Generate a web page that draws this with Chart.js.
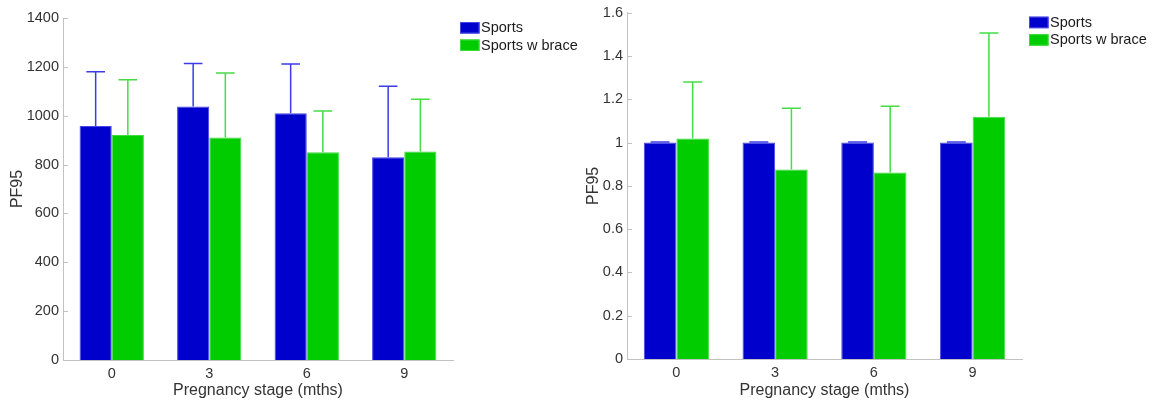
<!DOCTYPE html>
<html>
<head>
<meta charset="utf-8">
<script src="https://cdn.jsdelivr.net/npm/chart.js@4/dist/chart.umd.min.js"></script>
<style>
  html, body { margin: 0; padding: 0; background: #fff; }
  #wrap { position: relative; width: 1156px; height: 402px; }
  .box { position: absolute; top: 0; height: 402px; }
</style>
</head>
<body>
<div id="wrap">
  <div class="box" style="left:0;width:580px"><canvas id="grafico1"></canvas></div>
  <div class="box" style="left:580px;width:576px"><canvas id="grafico2"></canvas></div>
</div>
<script>
// categorias e valores
const stages = ["0", "3", "6", "9"];
const seriesNames = ["Sports", "Sports w brace"];

const pfSports = [958, 1038, 1010, 830];
const pfSportsErr = [222, 176, 202, 291];
const pfBrace = [921, 911, 850, 854];
const pfBraceErr = [226, 264, 169, 213];

const normSports = [1, 1, 1, 1];
const normSportsErr = [0.003, 0.003, 0.003, 0.003];
const normBrace = [1.019, 0.876, 0.862, 1.119];
const normBraceErr = [0.261, 0.283, 0.306, 0.387];

const leftTicks = { min: 0, max: 1400, step: 200 };
const rightTicks = { min: 0, max: 1.6, step: 0.2 };

const azul = "#0000cc";
const verde = "#00cc00";
const fonte = "Liberation Sans, Arial, sans-serif";
const cinza = "#c2c2c2";

// barras de erro (so para cima) e ticks internos no eixo y
const extras = {
    id: "extras",
    afterDatasetsDraw(chart) {
        const ctx = chart.ctx;
        const y = chart.scales.y;
        chart.data.datasets.forEach((ds, i) => {
            const meta = chart.getDatasetMeta(i);
            meta.data.forEach((bar, j) => {
                const topo = y.getPixelForValue(ds.data[j] + ds.errors[j]);
                const cap = bar.width * 0.58;
                ctx.save();
                ctx.strokeStyle = ds.errColor;
                ctx.lineWidth = 1.5;
                ctx.beginPath();
                ctx.moveTo(bar.x, bar.y);
                ctx.lineTo(bar.x, topo);
                ctx.moveTo(bar.x - cap / 2, topo);
                ctx.lineTo(bar.x + cap / 2, topo);
                ctx.stroke();
                ctx.restore();
            });
        });
    },
    afterDraw(chart) {
        const ctx = chart.ctx;
        const area = chart.chartArea;
        const y = chart.scales.y;
        ctx.save();
        ctx.strokeStyle = cinza;
        ctx.lineWidth = 1;
        y.ticks.forEach(t => {
            const py = Math.round(y.getPixelForValue(t.value)) + 0.5;
            ctx.beginPath();
            ctx.moveTo(area.left, py);
            ctx.lineTo(area.left + 5, py);
            ctx.stroke();
        });
        ctx.restore();

        // legenda ao lado do grafico
        ctx.save();
        ctx.font = "14.5px " + fonte;
        ctx.textBaseline = "middle";
        chart.data.datasets.forEach((ds, i) => {
            const lx = area.right + 7;
            const ly = area.top + 4 + i * 17.5;
            ctx.fillStyle = ds.backgroundColor;
            ctx.fillRect(lx, ly, 19.5, 11.5);
            ctx.strokeStyle = ds.borderColor;
            ctx.strokeRect(lx + 0.5, ly + 0.5, 18.5, 10.5);
            ctx.fillStyle = "#1a1a1a";
            ctx.fillText(ds.label, lx + 21, ly + 6);
        });
        ctx.restore();
    }
};

function fmt(v) {
    return String(Math.round(v * 10) / 10);
}

function criarGrafico(id, valores, limites, yWidth, pad, xHeight, yTitlePad) {
    return new Chart(document.getElementById(id), {
        type: "bar",
        data: {
            labels: stages,
            datasets: [{
                label: seriesNames[0],
                data: valores[0],
                errors: valores[1],
                backgroundColor: azul,
                borderColor: "#4545e8",
                borderWidth: 1,
                errColor: "#3b3bea",
                categoryPercentage: 0.66,
                barPercentage: 1
            }, {
                label: seriesNames[1],
                data: valores[2],
                errors: valores[3],
                backgroundColor: verde,
                borderColor: "#3fdc3f",
                borderWidth: 1,
                errColor: "#44dd44",
                categoryPercentage: 0.66,
                barPercentage: 1
            }]
        },
        options: {
            responsive: true,
            maintainAspectRatio: false,
            animation: false,
            layout: { padding: pad },
            plugins: { legend: { display: false }, tooltip: { enabled: false } },
            scales: {
                x: {
                    offset: true,
                    grid: { display: false, drawTicks: false },
                    border: { display: true, color: cinza, width: 1 },
                    ticks: { color: "#333", font: { family: fonte, size: 14.5 }, padding: 5 },
                    title: {
                        display: true,
                        text: "Pregnancy stage (mths)",
                        color: "#333",
                        font: { family: fonte, size: 16 },
                        padding: { top: 0, bottom: 2 }
                    },
                    afterFit(scale) { scale.height = xHeight; }
                },
                y: {
                    min: limites.min,
                    max: limites.max,
                    grid: { display: false, drawTicks: false },
                    border: { display: true, color: cinza, width: 1 },
                    ticks: {
                        stepSize: limites.step,
                        color: "#333",
                        font: { family: fonte, size: 14.5 },
                        padding: 4,
                        callback: v => fmt(v)
                    },
                    title: {
                        display: true,
                        text: "PF95",
                        color: "#333",
                        font: { family: fonte, size: 16 },
                        padding: { top: yTitlePad, bottom: 0 }
                    },
                    afterFit(scale) { scale.width = yWidth; }
                }
            }
        },
        plugins: [extras]
    });
}

criarGrafico("grafico1", [pfSports, pfSportsErr, pfBrace, pfBraceErr], leftTicks,
    63, { top: 18, right: 127, bottom: 0, left: 0 }, 42, 8);
criarGrafico("grafico2", [normSports, normSportsErr, normBrace, normBraceErr], rightTicks,
    47, { top: 12, right: 134, bottom: 0, left: 0 }, 43, 4);
</script>
</body>
</html>
